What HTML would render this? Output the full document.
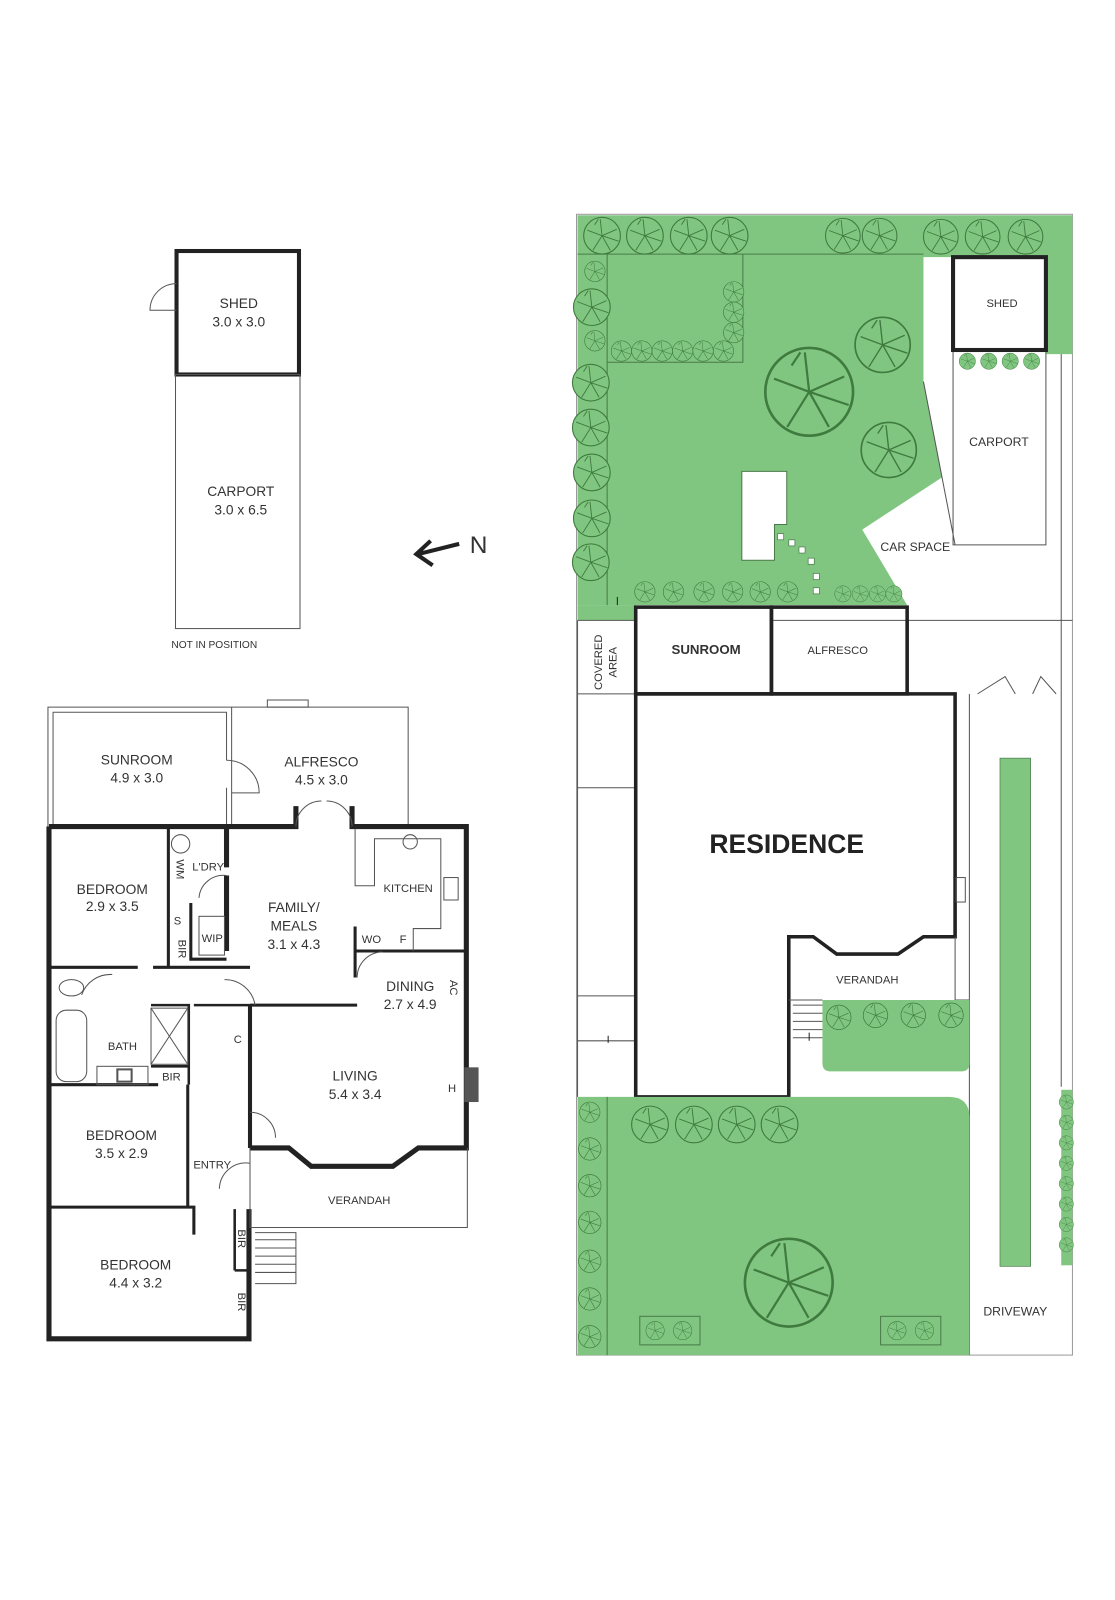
<!DOCTYPE html>
<html><head><meta charset="utf-8"><style>
html,body{margin:0;padding:0;background:#fff}
svg{display:block}
text{font-family:"Liberation Sans",sans-serif;fill:#333;text-anchor:middle}
.t{font-size:13.5px}
.s{font-size:11px}
.w{stroke:#222;stroke-width:5;fill:none}
.l{stroke:#555;stroke-width:1;fill:none}
.tr{fill:#80c680;stroke:#3f7a3f;stroke-width:1}
</style></head><body>
<svg width="1115" height="1600" viewBox="0 0 1115 1600">
<defs>
<g id="tree"><circle r="1" class="tr" style="stroke-width:0.06"/><path d="M0 0L-.8-.3M0 0L.8-.35M0 0L-.5.8M0 0L.45.8M0 0L-.1-.9M0 0L.9.3M-.4-.6L-.2-.9" stroke="#3f7a3f" stroke-width=".05" fill="none"/></g>
</defs>
<g transform="scale(1.0204)">
<!-- ================= LEFT: shed & carport ================= -->
<rect x="173" y="246" width="120" height="121" class="w" style="stroke-width:4"/>
<path d="M173 278 A26 26 0 0 0 147 304 L173 304" class="l"/>
<rect x="172" y="367" width="122" height="249" class="l"/>
<text x="234" y="302" class="t">SHED</text><text x="234" y="320" class="t">3.0 x 3.0</text>
<text x="236" y="486" class="t">CARPORT</text><text x="236" y="504" class="t">3.0 x 6.5</text>
<text x="210" y="635" style="font-size:10px">NOT IN POSITION</text>
<path d="M450 533 L410 543 M422 530 L408 543 L424 554" stroke="#222" stroke-width="4" fill="none"/>
<text x="469" y="542" style="font-size:24px">N</text>

<!-- ================= LEFT: floor plan ================= -->
<path d="M47 810 V693 H400 V810" class="l"/>
<path d="M52 810 V698 H222 V745 M222 772 V810" class="l"/>
<path d="M227 693 V810" class="l"/>
<rect x="262" y="686" width="40" height="7" class="l"/>
<path d="M222 745 A32 32 0 0 1 254 777 L227 777" class="l"/>
<path d="M48 810 H222 V850 M222 858 V932 M222 810 H290 V790 M345 790 V810 H457 V1125 H410 L385 1143 H305 L283 1125 H245" class="w"/>
<path d="M48 810 V1312 H244 V1185" class="w"/>
<path d="M245 985 V1125" class="w" style="stroke-width:4"/>
<path d="M245 985 H350 M348 932 H457 M348 908 V958" class="w" style="stroke-width:3"/>
<path d="M48 948 H135 M165 810 V948 M187 885 V940 H222 M150 948 H245" class="w" style="stroke-width:3"/>
<path d="M48 1063 H155 M184 1063 V1183 M48 1183 H190 V1210" class="w" style="stroke-width:3"/>
<path d="M148 985 H185 V1063 M148 1045 H185 M230 1185 V1245 M230 1245 H244" class="w" style="stroke-width:2.5"/>
<path d="M190 985 H245" class="w" style="stroke-width:2.5"/>
<path d="M245 1125 V1203 H458 V1125" class="l"/>
<path d="M250 1208 H290 V1258 H250" class="l"/>
<path d="M250 1215 H290 M250 1223 H290 M250 1231 H290 M250 1239 H290 M250 1247 H290" class="l"/>
<path d="M290 810 A25 25 0 0 1 315 785 M345 810 A25 25 0 0 0 320 785" class="l"/>
<path d="M350 958 A25 25 0 0 1 375 933" class="l"/>
<path d="M195 880 A24 24 0 0 1 222 858" class="l"/>
<path d="M215 1165 A26 26 0 0 1 245 1140" class="l"/>
<path d="M245 1090 A25 25 0 0 1 270 1115" class="l"/>
<path d="M220 960 A30 30 0 0 1 250 985 M80 975 A30 30 0 0 1 110 955" class="l"/>
<path d="M348 812 V868 H367 V822 H432 V910 H405 V932" class="l"/>
<circle cx="402" cy="825" r="7" class="l"/>
<rect x="435" y="860" width="14" height="22" class="l"/>
<rect x="55" y="990" width="30" height="70" rx="10" class="l"/>
<ellipse cx="70" cy="968" rx="12" ry="8" class="l"/>
<rect x="148" y="988" width="36" height="55" class="l"/><path d="M148 988 L184 1043 M184 988 L148 1043" class="l"/>
<rect x="95" y="1045" width="50" height="18" class="l"/>
<rect x="115" y="1048" width="14" height="12" class="l" style="stroke-width:2"/>
<circle cx="177" cy="827" r="9" class="l"/>
<rect x="195" y="898" width="25" height="38" class="l"/>
<rect x="455" y="1046" width="14" height="34" fill="#555"/>
<text x="134" y="749" class="t">SUNROOM</text><text x="134" y="767" class="t">4.9 x 3.0</text>
<text x="315" y="751" class="t">ALFRESCO</text><text x="315" y="769" class="t">4.5 x 3.0</text>
<text x="110" y="876" class="t">BEDROOM</text><text x="110" y="893" class="t">2.9 x 3.5</text>
<text x="204" y="853" class="s">L'DRY</text>
<text x="173" y="852" class="s" transform="rotate(90 173 852)">WM</text>
<text x="174" y="906" class="s">S</text>
<text x="175" y="930" class="s" transform="rotate(90 175 930)">BIR</text>
<text x="208" y="923" class="s">WIP</text>
<text x="288" y="894" class="t">FAMILY/</text><text x="288" y="912" class="t">MEALS</text><text x="288" y="930" class="t">3.1 x 4.3</text>
<text x="400" y="874" class="s">KITCHEN</text>
<text x="364" y="924" class="s">WO</text><text x="395" y="924" class="s">F</text>
<text x="402" y="971" class="t">DINING</text><text x="402" y="989" class="t">2.7 x 4.9</text>
<text x="441" y="968" class="s" transform="rotate(90 441 968)">AC</text>
<text x="120" y="1029" class="s">BATH</text>
<text x="168" y="1059" class="s">BIR</text>
<text x="233" y="1022" class="s">C</text>
<text x="348" y="1059" class="t">LIVING</text><text x="348" y="1077" class="t">5.4 x 3.4</text>
<text x="443" y="1070" class="s">H</text>
<text x="119" y="1117" class="t">BEDROOM</text><text x="119" y="1135" class="t">3.5 x 2.9</text>
<text x="208" y="1145" class="s">ENTRY</text>
<text x="352" y="1180" class="s">VERANDAH</text>
<text x="133" y="1244" class="t">BEDROOM</text><text x="133" y="1262" class="t">4.4 x 3.2</text>
<text x="233" y="1214" class="s" transform="rotate(90 233 1214)">BIR</text>
<text x="233" y="1276" class="s" transform="rotate(90 233 1276)">BIR</text>

<!-- ================= RIGHT: site plan ================= -->
<rect x="565" y="210" width="486" height="1118" class="l" style="stroke:#999"/>
<polygon points="566,211 1051,211 1051,347 1025,347 1025,252 905,252 905,374 923,468 845,519 889,593 566,593" fill="#80c680"/>
<rect x="566" y="593" width="57" height="15" fill="#80c680"/>
<path d="M566 249 H905 M595 249 V593 M595 355 H728 V249" class="l" style="stroke:#4a7a4a"/>
<polygon points="727,462 771,462 771,514 759,514 759,549 727,549" fill="#fff" stroke="#4a7a4a"/>
<g fill="#fff" stroke="#4a7a4a" stroke-width=".7">
<rect x="762" y="523" width="6" height="6"/><rect x="773" y="529" width="6" height="6"/><rect x="783" y="536" width="6" height="6"/><rect x="792" y="547" width="6" height="6"/><rect x="797" y="562" width="6" height="6"/><rect x="797" y="576" width="6" height="6"/></g>
<rect x="934" y="252" width="91" height="91" class="w" style="stroke-width:4" fill="#fff"/>
<path d="M934 345 V534 H1025 V345 M905 374 L936 534" class="l"/>
<path d="M1040 347 V1065" class="l"/>
<text x="982" y="301" class="s">SHED</text>
<text x="979" y="437" class="s" style="font-size:12px">CARPORT</text>
<text x="897" y="540" class="s" style="font-size:12px">CAR SPACE</text>
<g>
<use href="#tree" transform="translate(590,231) scale(18)"/><use href="#tree" transform="translate(632,231) scale(18)"/><use href="#tree" transform="translate(675,231) scale(18)"/><use href="#tree" transform="translate(715,231) scale(18)"/>
<use href="#tree" transform="translate(826,231) scale(17)"/><use href="#tree" transform="translate(862,231) scale(17)"/>
<use href="#tree" transform="translate(922,232) scale(17)"/><use href="#tree" transform="translate(963,232) scale(17)"/><use href="#tree" transform="translate(1005,232) scale(17)"/>
<use href="#tree" transform="translate(583,266) scale(10)"/><use href="#tree" transform="translate(580,301) scale(18)"/><use href="#tree" transform="translate(583,334) scale(10)"/>
<use href="#tree" transform="translate(579,375) scale(18)"/><use href="#tree" transform="translate(579,419) scale(18)"/><use href="#tree" transform="translate(580,463) scale(18)"/><use href="#tree" transform="translate(580,508) scale(18)"/><use href="#tree" transform="translate(579,551) scale(18)"/>
<use href="#tree" transform="translate(609,344) scale(10)"/><use href="#tree" transform="translate(629,344) scale(10)"/><use href="#tree" transform="translate(649,344) scale(10)"/><use href="#tree" transform="translate(669,344) scale(10)"/><use href="#tree" transform="translate(689,344) scale(10)"/><use href="#tree" transform="translate(709,344) scale(10)"/>
<use href="#tree" transform="translate(719,286) scale(10)"/><use href="#tree" transform="translate(719,306) scale(10)"/><use href="#tree" transform="translate(719,326) scale(10)"/>
<use href="#tree" transform="translate(793,384) scale(43)"/><use href="#tree" transform="translate(865,338) scale(27)"/><use href="#tree" transform="translate(871,441) scale(27)"/>
<use href="#tree" transform="translate(632,580) scale(10)"/><use href="#tree" transform="translate(660,580) scale(10)"/><use href="#tree" transform="translate(690,580) scale(10)"/><use href="#tree" transform="translate(718,580) scale(10)"/><use href="#tree" transform="translate(745,580) scale(10)"/><use href="#tree" transform="translate(772,580) scale(10)"/>
<use href="#tree" transform="translate(826,582) scale(8)"/><use href="#tree" transform="translate(843,582) scale(8)"/><use href="#tree" transform="translate(860,582) scale(8)"/><use href="#tree" transform="translate(876,582) scale(8)"/>
<use href="#tree" transform="translate(948,354) scale(8)"/><use href="#tree" transform="translate(969,354) scale(8)"/><use href="#tree" transform="translate(990,354) scale(8)"/><use href="#tree" transform="translate(1011,354) scale(8)"/>
</g>
<path d="M566 608 H623 M757 608 H1051 M890 608 V680 M566 680 H623 M566 608 V1075" class="l"/>
<path d="M566 772 H623 M566 976 H623 M566 1020 H623" class="l"/>
<rect x="623" y="595" width="133" height="85" class="w" style="stroke-width:3.5"/>
<rect x="756" y="595" width="133" height="85" class="w" style="stroke-width:3.5"/>
<path d="M623 680 H936 V918 H905 L880 935 H820 L797 918 H773 V1075 H623 Z" class="w" style="stroke-width:3.5" fill="#fff"/>
<text x="692" y="641" style="font-size:13px;font-weight:bold">SUNROOM</text>
<text x="821" y="641" class="s">ALFRESCO</text>
<text x="590" y="649" class="s" transform="rotate(-90 590 649)">COVERED</text>
<text x="604" y="649" class="s" transform="rotate(-90 604 649)">AREA</text>
<text x="771" y="836" style="font-size:26px;font-weight:bold;fill:#222">RESIDENCE</text>
<rect x="937" y="860" width="9" height="24" class="l"/>
<path d="M936 918 V980 H950 M773 980 H806" class="l"/>
<text x="850" y="964" class="s">VERANDAH</text>
<path d="M950 680 V1328 M958 680 L985 663 L995 680 M1012 680 L1020 663 L1035 680" class="l"/>
<path d="M777 985 H806 M777 993 H806 M777 1001 H806 M777 1009 H806 M777 1017 H806" class="l"/>
<path d="M806 980 H950 V1042 Q950 1050 942 1050 H814 Q806 1050 806 1042 Z" fill="#80c680"/>
<use href="#tree" transform="translate(822,997) scale(12)"/><use href="#tree" transform="translate(858,995) scale(12)"/><use href="#tree" transform="translate(895,995) scale(12)"/><use href="#tree" transform="translate(932,995) scale(12)"/>
<rect x="980" y="743" width="30" height="498" fill="#80c680" stroke="#4a7a4a" stroke-width=".7"/>
<rect x="1040" y="1068" width="11" height="172" fill="#80c680"/>
<g><use href="#tree" transform="translate(1045,1080) scale(7)"/><use href="#tree" transform="translate(1045,1100) scale(7)"/><use href="#tree" transform="translate(1045,1120) scale(7)"/><use href="#tree" transform="translate(1045,1140) scale(7)"/><use href="#tree" transform="translate(1045,1160) scale(7)"/><use href="#tree" transform="translate(1045,1180) scale(7)"/><use href="#tree" transform="translate(1045,1200) scale(7)"/><use href="#tree" transform="translate(1045,1220) scale(7)"/></g>
<text x="995" y="1289" class="s" style="font-size:12px">DRIVEWAY</text>
<path d="M566 1075 H930 Q950 1075 950 1095 V1328 H566 Z" fill="#80c680"/>
<path d="M595 1075 V1328" class="l" style="stroke:#4a7a4a"/>
<g>
<use href="#tree" transform="translate(637,1102) scale(18)"/><use href="#tree" transform="translate(680,1102) scale(18)"/><use href="#tree" transform="translate(722,1102) scale(18)"/><use href="#tree" transform="translate(764,1102) scale(18)"/>
<use href="#tree" transform="translate(578,1090) scale(10)"/><use href="#tree" transform="translate(578,1126) scale(11)"/><use href="#tree" transform="translate(578,1162) scale(11)"/><use href="#tree" transform="translate(578,1198) scale(11)"/><use href="#tree" transform="translate(578,1236) scale(11)"/><use href="#tree" transform="translate(578,1273) scale(11)"/><use href="#tree" transform="translate(578,1310) scale(11)"/>
<use href="#tree" transform="translate(773,1257) scale(43)"/>
</g>
<rect x="627" y="1290" width="59" height="28" fill="none" stroke="#4a7a4a"/><use href="#tree" transform="translate(642,1304) scale(9)"/><use href="#tree" transform="translate(669,1304) scale(9)"/>
<rect x="863" y="1290" width="59" height="28" fill="none" stroke="#4a7a4a"/><use href="#tree" transform="translate(879,1304) scale(9)"/><use href="#tree" transform="translate(906,1304) scale(9)"/>
<path d="M605 593 V585 M793 1020 V1012 M596 1015 V1022" stroke="#222"/>
</g>
</svg>
</body></html>
